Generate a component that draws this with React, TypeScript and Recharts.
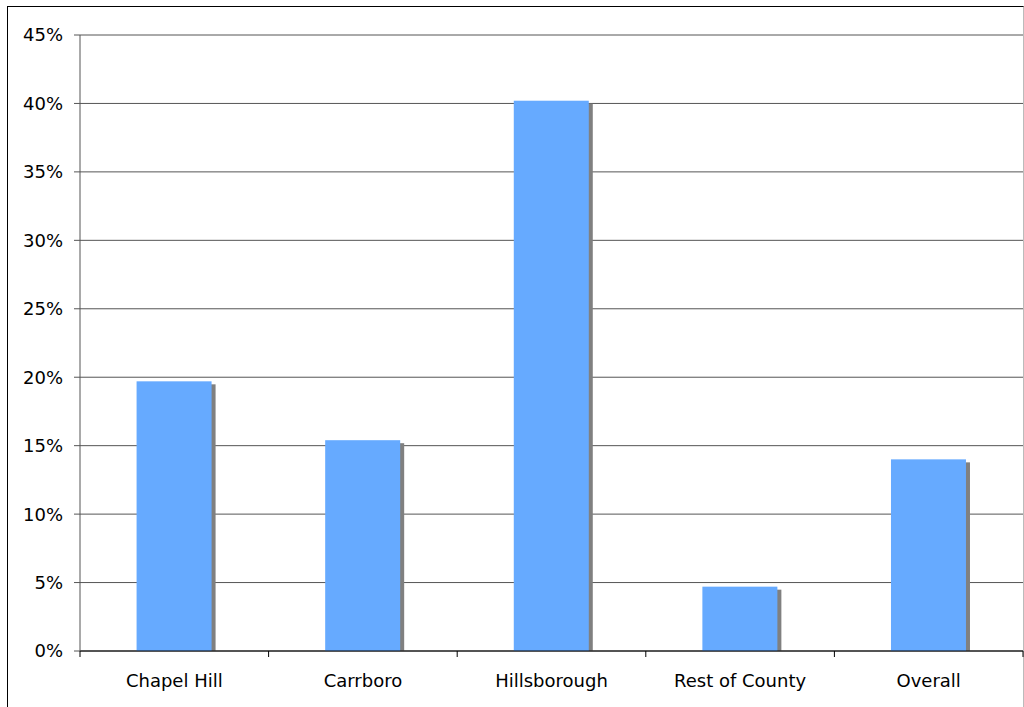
import React from "react";
import { BarChart, Bar, XAxis, YAxis, CartesianGrid } from "recharts";

const categories = ["Chapel Hill", "Carrboro", "Hillsborough", "Rest of County", "Overall"];
const shares = [19.7, 15.4, 40.2, 4.7, 14.0];
const yTicks = [0, 5, 10, 15, 20, 25, 30, 35, 40, 45];

const data = categories.map((name, i) => ({ name, share: shares[i] }));

const W = 1024;
const H = 707;
const AXIS_W = 80;
const AXIS_H = 56;
const MARGIN = { top: 35, right: 1, left: 0, bottom: 0 };
const BAND = (W - AXIS_W - MARGIN.right) / categories.length;
const FONT = "'DejaVu Sans', Verdana, sans-serif";

// bar with a flat grey drop shadow to the lower right
function ShadowBar(props: any) {
  const { x, y, width, height } = props;
  if (!height || height <= 0) return null;
  return (
    <g>
      <rect x={x + 4} y={y + 3} width={width} height={Math.max(height - 3, 0)} fill="#808080" />
      <rect x={x} y={y} width={width} height={height} fill="#66AAFF" />
    </g>
  );
}

// category label, with tick marks on the band edges instead of the centre
function CategoryTick(props: any) {
  const { x, y, payload, index } = props;
  const top = y - 8;
  return (
    <g>
      <line x1={x - BAND / 2} x2={x - BAND / 2} y1={top} y2={top + 6} stroke="#000" />
      {index === categories.length - 1 && (
        <line x1={x + BAND / 2} x2={x + BAND / 2} y1={top} y2={top + 6} stroke="#000" />
      )}
      <text x={x} y={top + 36} textAnchor="middle" fontSize={18} fontFamily={FONT} fill="#000">
        {payload.value}
      </text>
    </g>
  );
}

export default function App() {
  return (
    <div style={{ position: "absolute", left: 0, top: 0, width: W, height: H, background: "#fff" }}>
      <div
        style={{
          position: "absolute",
          left: 7,
          top: 6,
          width: W - 7,
          height: H - 6 + 2,
          boxSizing: "border-box",
          borderLeft: "1px solid #000",
          borderTop: "1px solid #000",
          borderRight: "1px solid #bbb",
        }}
      />
      <div style={{ position: "absolute", left: 0, top: 0 }}>
        <BarChart width={W} height={H} data={data} margin={MARGIN} barCategoryGap="30%">
          <CartesianGrid vertical={false} stroke="#555" />
          <XAxis
            dataKey="name"
            height={AXIS_H}
            stroke="#000"
            tickLine={false}
            tickSize={6}
            tickMargin={2}
            interval={0}
            tick={<CategoryTick />}
          />
          <YAxis
            width={AXIS_W}
            domain={[0, 45]}
            ticks={yTicks}
            interval={0}
            tickFormatter={(v: number) => `${v}%`}
            stroke="#555"
            tickSize={6}
            tickMargin={11}
            tick={{ fill: "#000", fontSize: 18, fontFamily: FONT }}
          />
          <Bar dataKey="share" shape={<ShadowBar />} isAnimationActive={false} />
        </BarChart>
      </div>
    </div>
  );
}
